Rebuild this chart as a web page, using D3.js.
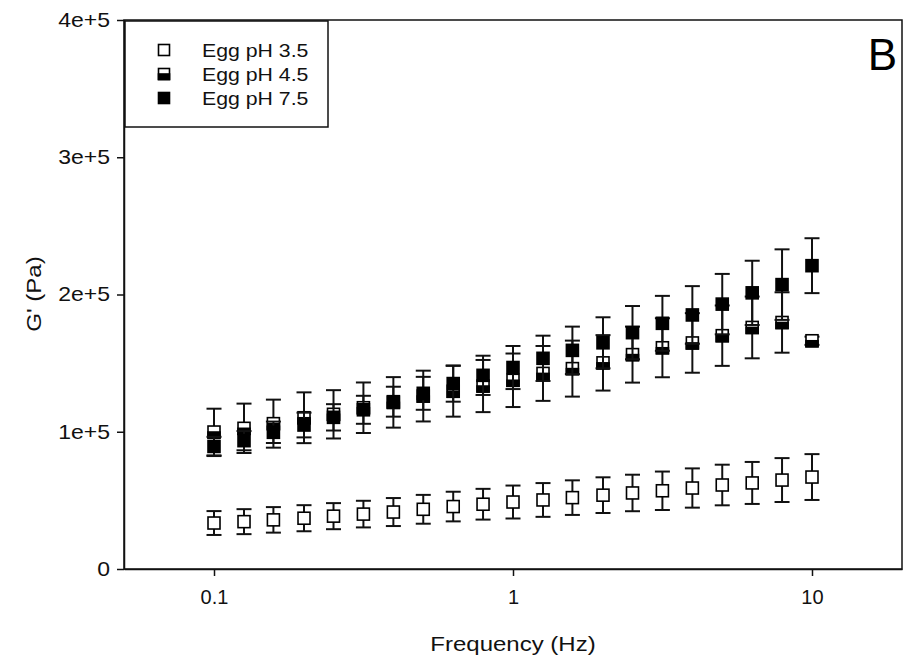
<!DOCTYPE html>
<html>
<head>
<meta charset="utf-8">
<script src="https://cdn.jsdelivr.net/npm/d3@7"></script>
<style>
  body { margin: 0; background: #fff; }
  svg { display: block; font-family: Arial, "Liberation Sans", sans-serif; }
</style>
</head>
<body>
<svg id="chart"></svg>
<script>
// frequencies (Hz)
const freq = [0.1, 0.126, 0.158, 0.2, 0.251, 0.316, 0.398, 0.501, 0.631, 0.794,
              1, 1.26, 1.58, 2, 2.51, 3.16, 3.98, 5.01, 6.31, 7.94, 10];

// G' (Pa) and error
const g35 = [33500, 34500, 35800, 37000, 38500, 40000, 41500, 43500, 45500, 47200,
             48800, 50300, 52000, 53800, 55400, 57000, 59000, 61200, 62700, 64800, 67000];
const e35 = [8700, 9100, 9300, 9500, 9500, 9700, 10200, 10500, 10800, 11200,
             12000, 12300, 12600, 13000, 13300, 14000, 14300, 14800, 15300, 16000, 16700];

const g45 = [99800, 102500, 105900, 110200, 112700, 117500, 121400, 126000, 129500, 133300,
             137500, 142500, 146000, 150200, 156200, 161200, 164700, 170000, 176000, 179600, 166300];
const e45 = [17000, 18000, 17500, 18500, 17600, 18400, 18400, 18500, 18500, 19000,
             19500, 20000, 20400, 20200, 20400, 21500, 21700, 22000, 22500, 22000, 3000];

const g75 = [89300, 93500, 99600, 104900, 110500, 116000, 121900, 128000, 135100, 141100,
             146800, 153500, 159300, 164800, 172200, 179000, 185100, 193000, 201200, 207200, 221000];
const e75 = [7000, 7000, 7800, 9000, 9600, 10200, 10900, 12000, 13200, 14300,
             15700, 16500, 17300, 18600, 19400, 20000, 21000, 22000, 23400, 25700, 20000];

const xTicks = [0.1, 1, 10];
const xTickLabels = ["0.1", "1", "10"];
const yTicks = [0, 100000, 200000, 300000, 400000];
const yTickLabels = ["0", "1e+5", "2e+5", "3e+5", "4e+5"];

const seriesNames = ["Egg pH 3.5", "Egg pH 4.5", "Egg pH 7.5"];
const seriesKinds = ["open", "half", "filled"];

/*******************
 * Setup
 *******************/
const W = 905, H = 662;
const plot = { left: 124, right: 902, top: 20, bottom: 569 };

const svg = d3.select("#chart").attr("width", W).attr("height", H);

const x = d3.scaleLog().domain([0.05, 20]).range([plot.left, plot.right]);
const y = d3.scaleLinear().domain([0, 400000]).range([plot.bottom, plot.top]);

// frame
svg.append("rect")
  .attr("x", plot.left).attr("y", plot.top)
  .attr("width", plot.right - plot.left).attr("height", plot.bottom - plot.top)
  .attr("fill", "none").attr("stroke", "#111").attr("stroke-width", 1.5);

// axes
const xAxis = svg.append("g")
  .attr("transform", `translate(0,${plot.bottom})`)
  .call(d3.axisBottom(x).tickValues(xTicks).tickFormat((d, i) => xTickLabels[i])
    .tickSize(7).tickSizeOuter(0).tickPadding(14));
const yAxis = svg.append("g")
  .attr("transform", `translate(${plot.left},0)`)
  .call(d3.axisLeft(y).tickValues(yTicks).tickFormat((d, i) => yTickLabels[i])
    .tickSize(7).tickSizeOuter(0).tickPadding(7));

[xAxis, yAxis].forEach(g => {
  g.select(".domain").attr("stroke", "#111").attr("stroke-width", 1.5);
  g.selectAll(".tick line").attr("stroke", "#111").attr("stroke-width", 1.5);
  g.selectAll(".tick text").attr("fill", "#111").attr("font-size", 20)
    .attr("font-family", "Arial, 'Liberation Sans', sans-serif");
});

// stretch the y labels a little, keeping their right edge
yAxis.selectAll(".tick text")
  .attr("x", null)
  .attr("transform", "translate(-14,0) scale(1.15,1)");

// axis titles
svg.append("text")
  .attr("transform", `translate(513,651) scale(1.2,1)`)
  .attr("text-anchor", "middle").attr("font-size", 20).attr("fill", "#111")
  .text("Frequency (Hz)");
svg.append("text")
  .attr("transform", `translate(41,294) rotate(-90) scale(1.15,1)`)
  .attr("text-anchor", "middle").attr("font-size", 21).attr("fill", "#111")
  .text("G' (Pa)");

// panel letter
svg.append("text")
  .attr("x", 897).attr("y", 70)
  .attr("text-anchor", "end").attr("font-size", 44).attr("fill", "#000")
  .text("B");

/*******************
 * Markers
 *******************/
const size = 12, capW = 15;

function drawSymbol(g, kind, cx, cy, s) {
  const h = s / 2;
  if (kind === "half") {
    g.append("rect").attr("x", cx - h).attr("y", cy - h).attr("width", s).attr("height", s)
      .attr("fill", "#fff").attr("stroke", "#000").attr("stroke-width", 1.6);
    g.append("rect").attr("x", cx - h).attr("y", cy).attr("width", s).attr("height", h)
      .attr("fill", "#000").attr("stroke", "#000").attr("stroke-width", 1.6);
  } else {
    g.append("rect").attr("x", cx - h).attr("y", cy - h).attr("width", s).attr("height", s)
      .attr("fill", kind === "filled" ? "#000" : "#fff")
      .attr("stroke", "#000").attr("stroke-width", 1.6);
  }
}

function drawSeries(vals, errs, kind) {
  const g = svg.append("g");
  const pts = freq.map((f, i) => ({ f: f, v: vals[i], e: errs[i] }));

  // error bars
  pts.forEach(d => {
    const cx = x(d.f);
    g.append("line").attr("x1", cx).attr("x2", cx)
      .attr("y1", y(d.v + d.e)).attr("y2", y(d.v - d.e))
      .attr("stroke", "#111").attr("stroke-width", 2);
    [d.v + d.e, d.v - d.e].forEach(v => {
      g.append("line").attr("x1", cx - capW / 2).attr("x2", cx + capW / 2)
        .attr("y1", y(v)).attr("y2", y(v))
        .attr("stroke", "#111").attr("stroke-width", 2);
    });
  });

  // symbols
  pts.forEach(d => drawSymbol(g, kind, x(d.f), y(d.v), size));
}

drawSeries(g35, e35, "open");
drawSeries(g45, e45, "half");
drawSeries(g75, e75, "filled");

/*******************
 * Legend
 *******************/
const legend = svg.append("g");
legend.append("rect")
  .attr("x", 125).attr("y", 21).attr("width", 203).attr("height", 106)
  .attr("fill", "#fff").attr("stroke", "#111").attr("stroke-width", 1.5);

seriesNames.forEach((name, i) => {
  const cy = 50 + i * 24;
  drawSymbol(legend, seriesKinds[i], 164, cy, 11);
  legend.append("text")
    .attr("transform", `translate(202,${cy + 7}) scale(1.12,1)`)
    .attr("font-size", 19).attr("fill", "#111")
    .text(name);
});
</script>
</body>
</html>
